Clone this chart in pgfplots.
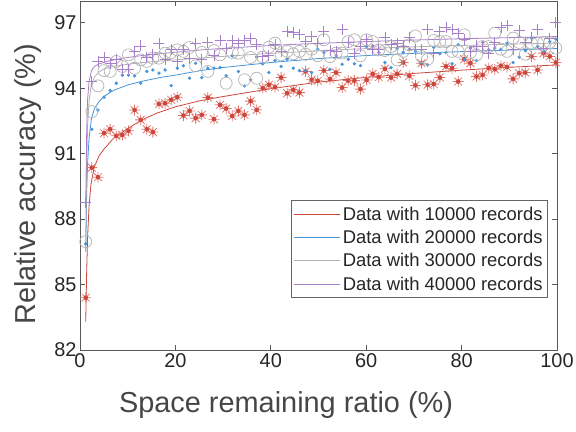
\documentclass[border=0pt]{standalone}
\usepackage{fontspec}
\setmainfont{Liberation Sans}
\usepackage{pgfplots}
\pgfplotsset{compat=1.18}
\usepackage{pgfplotstable}

\definecolor{redL}{RGB}{205,70,60}
\definecolor{redM}{RGB}{225,120,110}
\definecolor{bluL}{RGB}{70,148,218}
\definecolor{gryL}{RGB}{178,178,178}
\definecolor{purL}{RGB}{168,128,202}
\definecolor{txt}{RGB}{38,38,38}
\definecolor{lab}{RGB}{70,70,70}

% 8-armed star with a filled centre, like the MATLAB asterisk
\pgfdeclareplotmark{mstar}{%
  \pgfpathmoveto{\pgfqpoint{-\pgfplotmarksize}{0pt}}\pgfpathlineto{\pgfqpoint{\pgfplotmarksize}{0pt}}%
  \pgfpathmoveto{\pgfqpoint{0pt}{-\pgfplotmarksize}}\pgfpathlineto{\pgfqpoint{0pt}{\pgfplotmarksize}}%
  \pgfpathmoveto{\pgfqpoint{-0.707\pgfplotmarksize}{-0.707\pgfplotmarksize}}\pgfpathlineto{\pgfqpoint{0.707\pgfplotmarksize}{0.707\pgfplotmarksize}}%
  \pgfpathmoveto{\pgfqpoint{-0.707\pgfplotmarksize}{0.707\pgfplotmarksize}}\pgfpathlineto{\pgfqpoint{0.707\pgfplotmarksize}{-0.707\pgfplotmarksize}}%
  \pgfusepathqstroke
  \pgfpathcircle{\pgfpointorigin}{0.42\pgfplotmarksize}\pgfusepathqfill
}

% measured accuracy, one column per data set
\pgfplotstableread{
x r b g p
1.20 84.40 86.86 86.97 88.77
2.48 90.36 92.12 92.93 94.30
3.76 89.92 93.00 94.11 95.23
5.04 91.94 93.59 94.81 95.42
6.32 92.12 93.90 94.77 95.15
7.60 91.82 94.23 95.23 95.30
8.88 91.86 94.60 95.00 94.87
10.16 92.05 94.60 95.53 94.87
11.44 93.00 94.57 94.92 95.69
12.72 92.55 94.23 95.30 95.94
14.00 92.12 94.77 95.23 95.42
15.28 91.99 94.84 95.38 95.53
16.56 93.28 94.69 95.38 96.04
17.84 93.31 94.84 95.61 95.30
19.12 93.47 94.12 95.64 95.76
20.40 93.59 94.92 95.76 95.23
21.68 92.75 95.03 95.69 95.79
22.96 92.96 94.46 95.87 95.38
24.24 92.63 95.15 95.03 96.07
25.52 92.78 94.49 95.64 95.33
26.80 93.57 94.92 94.77 96.10
28.08 92.58 94.92 95.73 95.49
29.36 93.24 94.95 95.53 96.19
30.64 93.07 94.57 94.23 95.84
31.92 92.73 95.49 95.64 96.19
33.20 92.96 94.77 95.61 96.04
34.48 92.78 94.11 94.39 96.19
35.76 93.41 94.39 95.41 96.30
37.04 93.01 95.43 94.46 95.99
38.32 94.00 95.12 95.43 95.46
39.60 94.16 94.72 95.88 95.49
40.88 94.05 95.27 96.07 95.99
42.16 94.49 95.00 95.53 95.69
43.44 93.77 95.33 95.69 96.60
44.72 93.93 94.92 95.58 96.56
46.00 93.80 94.81 95.69 96.45
47.28 94.77 94.81 95.56 96.14
48.56 94.39 94.72 95.79 96.37
49.84 94.34 95.79 95.49 96.04
51.12 94.81 95.64 96.22 96.60
52.40 94.42 94.87 95.45 95.73
53.68 94.72 95.49 95.61 95.69
54.96 94.03 95.10 95.61 96.68
56.24 94.35 95.33 96.14 96.10
57.52 94.35 95.12 96.22 95.58
58.80 93.96 95.04 95.49 95.91
60.08 94.38 95.91 96.22 96.22
61.36 94.66 95.94 96.14 95.79
62.64 94.51 95.64 95.76 95.79
63.92 94.89 95.18 95.73 96.34
65.20 94.49 94.95 95.91 95.99
66.48 94.66 95.81 95.30 96.04
67.76 95.18 95.64 95.69 95.94
69.04 94.57 95.79 95.99 96.34
70.32 94.13 95.69 96.40 95.79
71.60 95.15 95.15 95.45 95.79
72.88 94.16 95.07 95.33 96.71
74.16 94.19 95.87 96.19 95.61
75.44 94.49 95.58 96.14 96.60
76.72 95.00 95.64 96.14 96.80
78.00 94.92 95.12 95.69 96.68
79.28 94.31 95.99 95.69 96.52
80.56 95.33 95.33 96.45 96.22
81.84 95.15 95.84 95.64 95.69
83.12 94.54 95.27 95.53 95.94
84.40 94.61 96.10 95.91 95.91
85.68 94.92 95.76 95.91 95.61
86.96 94.87 95.84 96.53 96.10
88.24 95.03 95.79 95.79 96.80
89.52 94.97 96.07 95.69 96.86
90.80 94.43 95.18 96.30 95.79
92.08 94.69 95.43 96.10 96.65
93.36 94.72 95.72 95.56 96.10
94.64 95.46 96.30 96.07 96.34
95.92 94.84 95.91 96.07 96.71
97.20 95.61 95.69 96.10 95.84
98.48 95.46 96.14 96.10 96.30
99.76 95.18 96.25 95.84 97.00
}\acc

\begin{document}
\begin{tikzpicture}
\path[use as bounding box] (-80bp,-82bp) rectangle (496bp,350bp);
\begin{axis}[
    at={(0,0)}, anchor=south west,
    scale only axis,
    width=477bp, height=349bp,
    xmin=0, xmax=100, ymin=82, ymax=98,
    xtick={0,20,...,100},
    ytick={82,85,88,91,94,97},
    tick align=inside,
    major tick length=5bp,
    axis line style={black!65, line width=0.7bp},
    tick style={black!65, line width=0.7bp},
    ticklabel style={font=\fontsize{20}{22}\selectfont, text=txt},
    /pgf/number format/assume math mode=true,
    xlabel={Space remaining ratio (\%)},
    ylabel={Relative accuracy (\%)},
    label style={font=\fontsize{29}{32}\selectfont, text=lab},
    xlabel style={at={(axis description cs:0.432,-0.158)}, anchor=center},
    ylabel style={at={(axis description cs:-0.108,0.475)}, anchor=center},
    clip=false,
    legend style={at={(0.981,0.149)}, anchor=south east,
                  draw=black!60, line width=0.7bp, fill=white,
                  font=\fontsize{18.5}{20}\selectfont, text=txt,
                  row sep=4.5bp, inner xsep=3bp, inner ysep=4bp},
    legend cell align=left,
    legend image code/.code={\draw[#1] (0bp,0bp) -- (46bp,0bp);},
]

% scatter of the measurements
\addplot[only marks, mark=mstar, mark size=5.5bp,
    mark options={draw=redM, fill=redL, line width=0.8bp}, forget plot]
    table[x=x, y=r] {\acc};
\addplot[only marks, mark=*, mark size=1.5bp,
    mark options={draw=bluL, fill=bluL}, forget plot]
    table[x=x, y=b] {\acc};
\addplot[only marks, mark=o, mark size=6bp,
    mark options={draw=gryL, line width=0.7bp}, forget plot]
    table[x=x, y=g] {\acc};
\addplot[only marks, mark=+, mark size=5.5bp,
    mark options={draw=purL, line width=0.8bp}, forget plot]
    table[x=x, y=p] {\acc};

% fitted curves
\addplot[redL, line width=0.8bp, mark=none] coordinates {
(1.2,83.3)(1.4,85.6)(1.6,87.2)(1.9,88.6)(2.3,89.6)(3,90.4)(4,90.9)(5,91.2)
(7,91.7)(10,92.15)(13,92.55)(16,92.85)(20,93.15)(25,93.42)(30,93.62)
(40,93.98)(50,94.28)(60,94.5)(70,94.68)(80,94.83)(90,94.96)(100,95.07)};
\addlegendentry{Data with 10000 records}

\addplot[bluL, line width=0.8bp, mark=none] coordinates {
(1.2,86.5)(1.4,89.2)(1.6,90.6)(1.9,91.7)(2.4,92.6)(3,93.05)(4,93.4)(5.2,93.65)
(7,93.9)(10,94.15)(13,94.32)(17,94.5)(20,94.6)(25,94.8)(30,94.95)(40,95.18)
(50,95.36)(60,95.5)(70,95.6)(80,95.68)(90,95.75)(100,95.82)};
\addlegendentry{Data with 20000 records}

\addplot[gryL, line width=0.8bp, mark=none] coordinates {
(1.2,86.9)(1.4,90.5)(1.6,92.3)(1.9,93.4)(2.4,94.2)(3,94.5)(4,94.75)(5,94.88)
(7,95.0)(10,95.1)(14,95.2)(20,95.3)(25,95.38)(30,95.46)(40,95.6)(50,95.72)
(60,95.82)(70,95.9)(80,95.96)(90,96.02)(100,96.07)};
\addlegendentry{Data with 30000 records}

\addplot[purL, line width=0.8bp, mark=none] coordinates {
(1.2,88.7)(1.4,92.0)(1.6,93.5)(1.9,94.3)(2.4,94.8)(3,95.0)(4,95.12)(6,95.25)
(9,95.38)(13,95.5)(20,95.65)(25,95.75)(30,95.83)(40,95.96)(50,96.06)
(60,96.14)(70,96.21)(80,96.27)(90,96.32)(100,96.37)};
\addlegendentry{Data with 40000 records}

\end{axis}
\end{tikzpicture}
\end{document}
